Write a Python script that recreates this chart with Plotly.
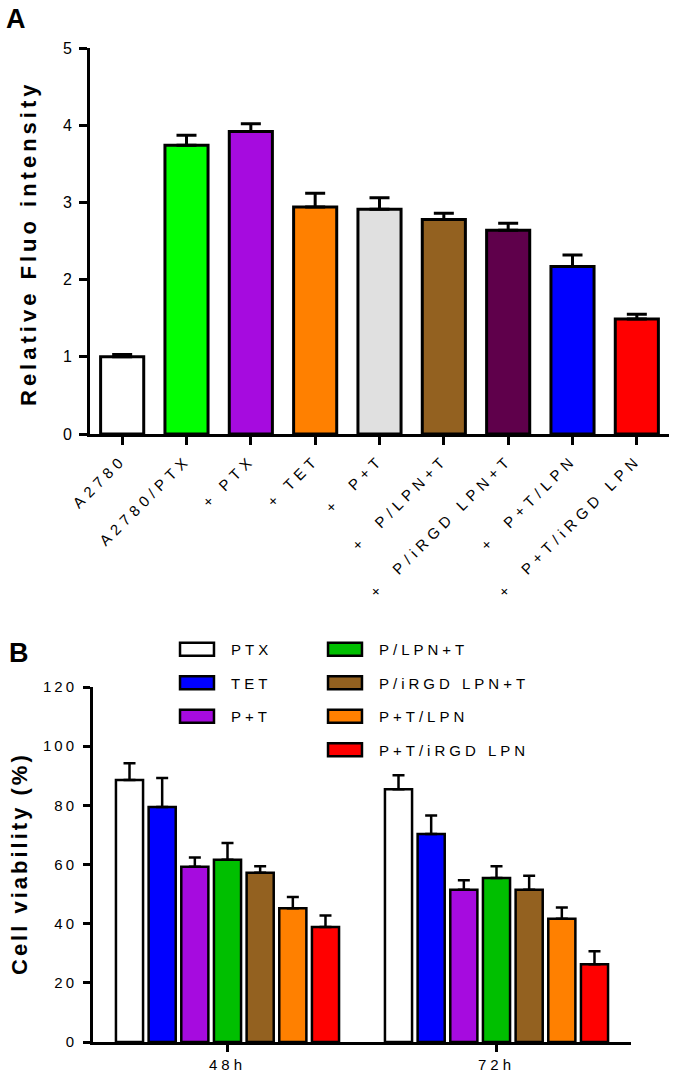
import plotly.graph_objects as go

# ---------------- Panel A data ----------------
cats_a = ["A2780", "A2780/PTX", "+\u00a0PTX", "+\u00a0TET", "+\u00a0\u00a0P+T",
          "+\u00a0\u00a0P/LPN+T", "+\u00a0\u00a0P/iRGD LPN+T", "+\u00a0\u00a0P+T/LPN",
          "+\u00a0\u00a0P+T/iRGD LPN"]
vals_a = [1.00, 3.74, 3.92, 2.94, 2.91, 2.78, 2.64, 2.17, 1.49]
err_a = [0.03, 0.13, 0.10, 0.18, 0.15, 0.08, 0.09, 0.15, 0.06]
colors_a = ["#FFFFFF", "#00FF00", "#A60BDF", "#FF8000", "#E0E0E0",
            "#936120", "#5F004B", "#0000FF", "#FF0000"]

# ---------------- Panel B data ----------------
times_b = ["48h", "72h"]
series_b = ["PTX", "TET", "P+T", "P/LPN+T", "P/iRGD LPN+T", "P+T/LPN", "P+T/iRGD LPN"]
vals_48h = [88.6, 79.4, 59.2, 61.6, 57.2, 45.2, 38.9]
err_48h = [5.6, 9.8, 3.2, 5.7, 2.2, 3.8, 3.9]
vals_72h = [85.4, 70.3, 51.5, 55.4, 51.5, 41.7, 26.3]
err_72h = [4.8, 6.3, 3.2, 4.0, 4.7, 3.8, 4.4]
colors_b = ["#FFFFFF", "#0000FF", "#A60BDF", "#00BF00", "#936120", "#FF8000", "#FF0000"]
legend_col = ["legend", "legend", "legend", "legend2", "legend2", "legend2", "legend2"]

W, H = 675, 1078
FONT = "Arial, Liberation Sans, sans-serif"

fig = go.Figure()

fig.add_trace(go.Bar(
    x=cats_a, y=vals_a, width=0.67,
    marker=dict(color=colors_a, line=dict(color="black", width=3)),
    error_y=dict(type="data", symmetric=False, array=err_a,
                 arrayminus=[0] * len(err_a), color="black", thickness=3, width=10),
    xaxis="x", yaxis="y", showlegend=False,
))

for i, name in enumerate(series_b):
    fig.add_trace(go.Bar(
        x=times_b, y=[vals_48h[i], vals_72h[i]], name=name,
        marker=dict(color=colors_b[i], line=dict(color="black", width=2.5)),
        error_y=dict(type="data", symmetric=False, array=[err_48h[i], err_72h[i]],
                     arrayminus=[0, 0], color="black", thickness=2.5, width=6),
        xaxis="x2", yaxis="y2", legend=legend_col[i], legendgroup=name,
    ))

axis_common = dict(showline=True, linecolor="black", linewidth=3, ticks="outside",
                   tickcolor="black", tickwidth=3, showgrid=False, zeroline=False,
                   automargin=False,
                   tickfont=dict(family=FONT, size=15, color="black"))

fig.update_layout(
    template="none",
    width=W, height=H, margin=dict(l=0, r=0, t=0, b=0, autoexpand=False),
    paper_bgcolor="white", plot_bgcolor="white",
    barmode="group", bargap=0.15, bargroupgap=0.17,
    font=dict(family=FONT, color="black"),
    xaxis=dict(domain=[90 / W, 669 / W], anchor="y", type="category",
               range=[-0.5, 8.5], ticklen=8, tickangle=-45, **axis_common),
    yaxis=dict(domain=[1 - 434 / H, 1 - 48 / H], anchor="x", range=[0, 5], dtick=1,
               ticklen=8, ticklabelstandoff=4,
               **{**axis_common, "tickfont": dict(family=FONT, size=16, color="black")}),
    xaxis2=dict(domain=[93 / W, 631 / W], anchor="y2", type="category",
                range=[-0.5, 1.5], ticklen=7, **axis_common),
    yaxis2=dict(domain=[1 - 1042 / H, 1 - 687 / H], anchor="x2", range=[0, 120], dtick=20,
                ticklen=7, ticklabelstandoff=3, **axis_common),
    legend=dict(x=191 / W, y=1 - 633 / H, xanchor="left", yanchor="top",
                font=dict(family=FONT, size=15, color="black"),
                tracegroupgap=11, bgcolor="rgba(0,0,0,0)"),
    legend2=dict(x=339 / W, y=1 - 633 / H, xanchor="left", yanchor="top",
                 font=dict(family=FONT, size=15, color="black"),
                 tracegroupgap=11, bgcolor="rgba(0,0,0,0)"),
    annotations=[
        dict(text="<b>A</b>", x=4 / W, y=1 - 2 / H, xref="paper", yref="paper",
             xanchor="left", yanchor="top", showarrow=False,
             font=dict(family=FONT, size=27, color="black")),
        dict(text="<b>B</b>", x=7 / W, y=1 - 636 / H, xref="paper", yref="paper",
             xanchor="left", yanchor="top", showarrow=False,
             font=dict(family=FONT, size=27, color="black")),
        dict(text="<b>Relative Fluo intensity</b>", x=28 / W, y=1 - 243 / H,
             xref="paper", yref="paper", xanchor="center", yanchor="middle",
             textangle=-90, showarrow=False,
             font=dict(family=FONT, size=22, color="black")),
        dict(text="<b>Cell viability (%)</b>", x=19 / W, y=1 - 864 / H,
             xref="paper", yref="paper", xanchor="center", yanchor="middle",
             textangle=-90, showarrow=False,
             font=dict(family=FONT, size=22, color="black")),
    ],
)

css = (
    "body{margin:0;padding:0;}"
    ".xtick text{letter-spacing:5px;}"
    ".x2tick text{letter-spacing:4px;}"
    ".y2tick text{letter-spacing:3px;}"
    ".annotation[data-index='2'] text{letter-spacing:4px;}"
    ".annotation[data-index='3'] text{letter-spacing:3px;}"
    ".legendtext, .legend2text{letter-spacing:4px;}"
    ".infolayer .scrollbox{clip-path:none !important;}"
    ".legendpoints path{transform:translate(6px,0px) scale(2.83,1.08);"
    "vector-effect:non-scaling-stroke;}"
)
post = (
    "var s=document.createElement('style');"
    "s.textContent=\"" + css + "\";"
    "document.head.appendChild(s);"
)

fig.write_html("out.html", post_script=post, config={"displayModeBar": False})
